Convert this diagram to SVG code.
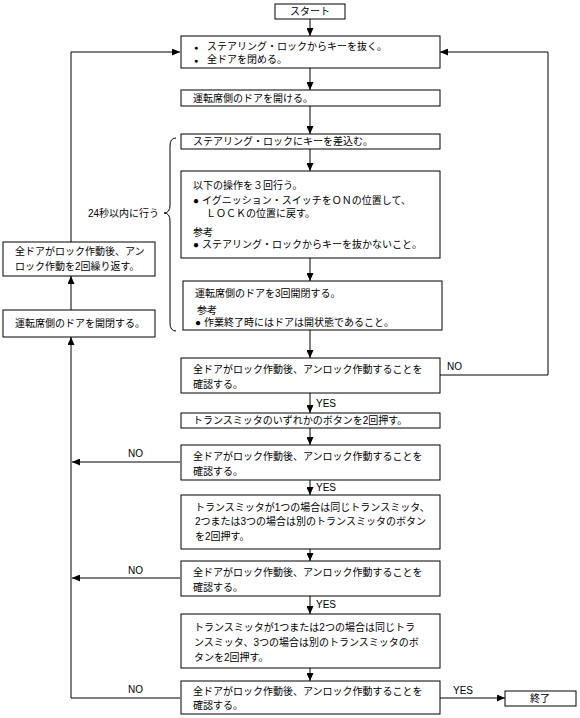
<svg xmlns="http://www.w3.org/2000/svg" width="580" height="718" viewBox="0 0 580 718">
<defs>
<style>
.box{fill:#fff;stroke:#000;stroke-width:1}
.t{font-family:"Liberation Sans","Noto Sans CJK JP",sans-serif;font-size:10px;fill:#000}
.c{text-anchor:middle}
.b{font-size:7px}
.ln{stroke:#000;stroke-width:1;fill:none}
</style>
<marker id="ah" markerUnits="userSpaceOnUse" markerWidth="8" markerHeight="7" refX="8" refY="3.5" orient="auto">
<path d="M0,0 L8,3.5 L0,7 z" fill="#000"/>
</marker>
</defs>
<rect width="580" height="718" fill="#fff"/>
<g id="connectors">
<path class="ln" d="M310,19 V36" marker-end="url(#ah)"/>
<path class="ln" d="M310,68 V90" marker-end="url(#ah)"/>
<path class="ln" d="M310,106 V134" marker-end="url(#ah)"/>
<path class="ln" d="M310,149 V171" marker-end="url(#ah)"/>
<path class="ln" d="M310,258 V281" marker-end="url(#ah)"/>
<path class="ln" d="M310,330 V358" marker-end="url(#ah)"/>
<path class="ln" d="M310,393 V413" marker-end="url(#ah)"/>
<path class="ln" d="M310,428 V445" marker-end="url(#ah)"/>
<path class="ln" d="M310,480 V495" marker-end="url(#ah)"/>
<path class="ln" d="M310,549 V561" marker-end="url(#ah)"/>
<path class="ln" d="M310,596 V614" marker-end="url(#ah)"/>
<path class="ln" d="M310,668 V681" marker-end="url(#ah)"/>
<path class="ln" d="M440,698 H505" marker-end="url(#ah)"/>
<path class="ln" d="M440,375 H548 V52 H440" marker-end="url(#ah)"/>
<path class="ln" d="M180,462 H72" marker-end="url(#ah)"/>
<path class="ln" d="M180,578 H72" marker-end="url(#ah)"/>
<path class="ln" d="M180,698 H71 V337" marker-end="url(#ah)"/>
<path class="ln" d="M71,310 V276" marker-end="url(#ah)"/>
<path class="ln" d="M71,242 V52 H180" marker-end="url(#ah)"/>
<path class="ln" d="M176,138 Q170,138 170,146 V205 Q170,213 164,213 Q170,213 170,221 V323 Q170,331 176,331"/>
<text class="t" x="316" y="407">YES</text>
<text class="t" x="316" y="491">YES</text>
<text class="t" x="316" y="608">YES</text>
<text class="t" x="453" y="694">YES</text>
<text class="t" x="447" y="370">NO</text>
<text class="t" x="128" y="457">NO</text>
<text class="t" x="128" y="574">NO</text>
<text class="t" x="128" y="693">NO</text>
<text class="t" x="88" y="217">24秒以内に行う</text>
</g>
<g id="start"><rect class="box" x="275" y="4" width="70" height="15"/><text class="t c" x="310" y="15">スタート</text></g>
<g id="n1"><rect class="box" x="181" y="36" width="259" height="32"/>
<text class="t" x="194" y="50"><tspan class="b">●</tspan><tspan x="207">ステアリング・ロックからキーを抜く。</tspan></text>
<text class="t" x="194" y="63"><tspan class="b">●</tspan><tspan x="207">全ドアを閉める。</tspan></text></g>
<g id="n2"><rect class="box" x="181" y="90" width="259" height="16"/><text class="t" x="193" y="102">運転席側のドアを開ける。</text></g>
<g id="n3"><rect class="box" x="181" y="134" width="259" height="15"/><text class="t" x="193" y="145">ステアリング・ロックにキーを差込む。</text></g>
<g id="n4"><rect class="box" x="181" y="171" width="259" height="87"/>
<text class="t" x="193" y="189">以下の操作を３回行う。</text>
<text class="t" x="193" y="204">●<tspan x="202">イグニッション・スイッチをＯＮの位置して、</tspan></text>
<text class="t" x="206" y="217">ＬＯＣＫの位置に戻す。</text>
<text class="t" x="193" y="236">参考</text>
<text class="t" x="193" y="248">●<tspan x="202">ステアリング・ロックからキーを抜かないこと。</tspan></text></g>
<g id="n5"><rect class="box" x="183" y="281" width="259" height="49"/>
<text class="t" x="195" y="297">運転席側のドアを3回開閉する。</text>
<text class="t" x="197" y="314">参考</text>
<text class="t" x="195" y="326">●<tspan x="204">作業終了時にはドアは開状態であること。</tspan></text></g>
<g id="d1"><rect class="box" x="181" y="358" width="259" height="35"/>
<text class="t" x="193" y="373">全ドアがロック作動後、アンロック作動することを</text>
<text class="t" x="193" y="388">確認する。</text></g>
<g id="n7"><rect class="box" x="181" y="413" width="259" height="15"/><text class="t" x="193" y="424">トランスミッタのいずれかのボタンを2回押す。</text></g>
<g id="d2"><rect class="box" x="181" y="445" width="259" height="35"/>
<text class="t" x="193" y="460">全ドアがロック作動後、アンロック作動することを</text>
<text class="t" x="193" y="475">確認する。</text></g>
<g id="n9"><rect class="box" x="181" y="495" width="259" height="54"/>
<text class="t" x="195" y="511">トランスミッタが1つの場合は同じトランスミッタ、</text>
<text class="t" x="195" y="525">2つまたは3つの場合は別のトランスミッタのボタン</text>
<text class="t" x="195" y="540">を2回押す。</text></g>
<g id="d3"><rect class="box" x="181" y="561" width="259" height="35"/>
<text class="t" x="193" y="576">全ドアがロック作動後、アンロック作動することを</text>
<text class="t" x="193" y="591">確認する。</text></g>
<g id="n11"><rect class="box" x="181" y="614" width="259" height="54"/>
<text class="t" x="194" y="631">トランスミッタが1つまたは2つの場合は同じトラ</text>
<text class="t" x="194" y="646">ンスミッタ、3つの場合は別のトランスミッタのボ</text>
<text class="t" x="194" y="661">タンを2回押す。</text></g>
<g id="d4"><rect class="box" x="181" y="681" width="259" height="33"/>
<text class="t" x="193" y="695">全ドアがロック作動後、アンロック作動することを</text>
<text class="t" x="193" y="709">確認する。</text></g>
<g id="end"><rect class="box" x="505" y="691" width="71" height="15"/><text class="t c" x="540" y="702">終了</text></g>
<g id="la"><rect class="box" x="3" y="242" width="152" height="34"/>
<text class="t" x="15" y="255">全ドアがロック作動後、アン</text>
<text class="t" x="15" y="270">ロック作動を2回繰り返す。</text></g>
<g id="lb"><rect class="box" x="3" y="310" width="152" height="27"/>
<text class="t" x="15" y="327">運転席側のドアを開閉する。</text></g>
</svg>
